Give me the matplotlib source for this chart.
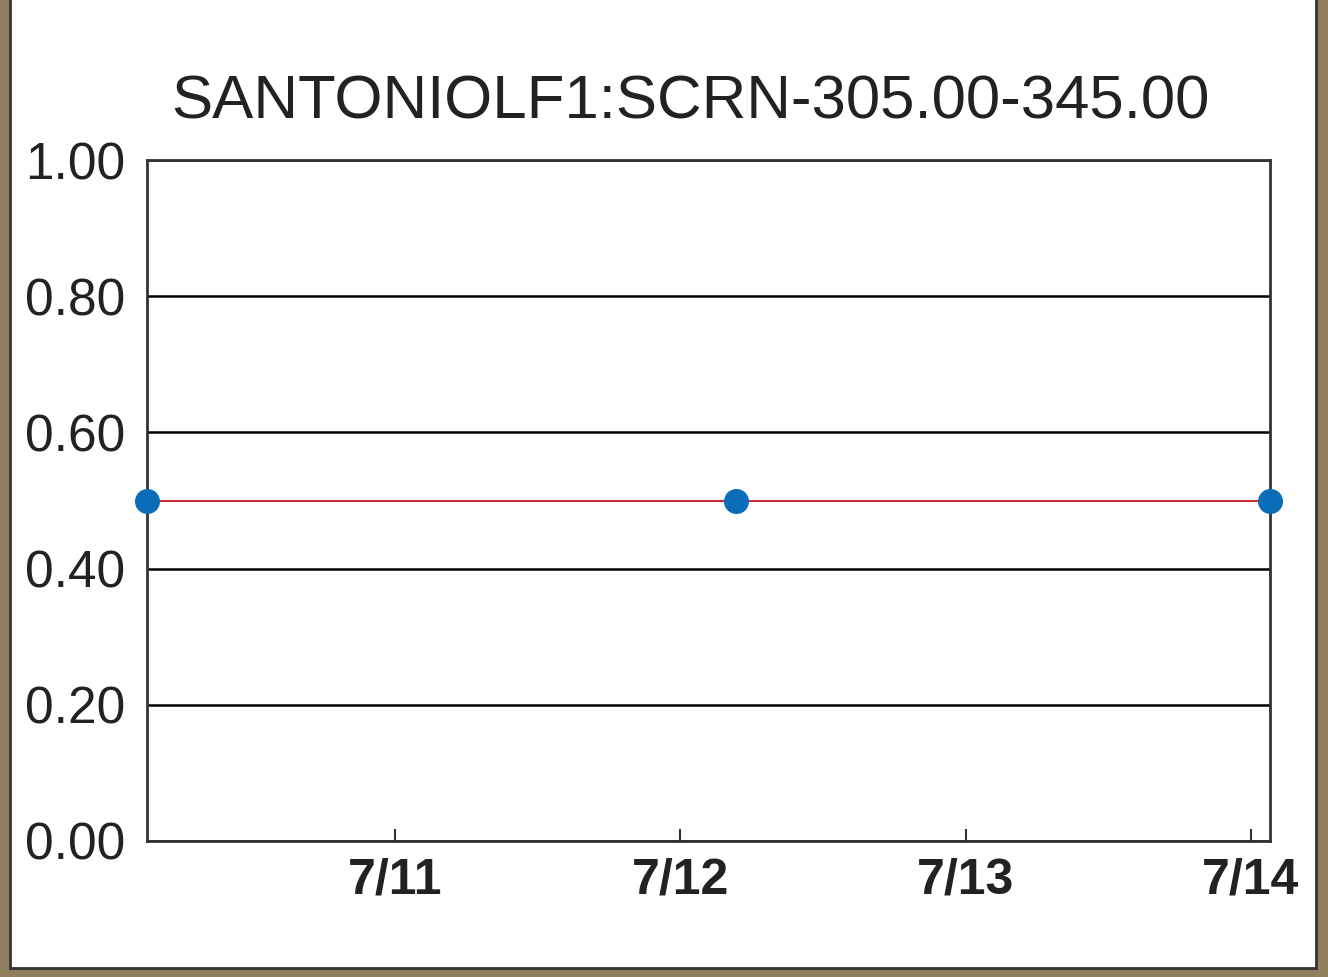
"""Popup chart: SANTONIOLF1 screen level over time."""
from datetime import datetime
import matplotlib
matplotlib.use("Agg")
import matplotlib.pyplot as plt
import matplotlib.dates as mdates
from matplotlib.patches import Rectangle

TITLE = "SANTONIOLF1:SCRN-305.00-345.00"
times = [datetime(2023, 7, 10, 3, 7), datetime(2023, 7, 12, 4, 38), datetime(2023, 7, 14, 1, 36)]
values = [0.5, 0.5, 0.5]
yticks = [0.0, 0.2, 0.4, 0.6, 0.8, 1.0]
xticks = [datetime(2023, 7, d) for d in (11, 12, 13, 14)]

plt.rcParams["font.family"] = ["Liberation Sans", "DejaVu Sans"]

W, H = 1328, 977
fig = plt.figure(figsize=(W / 100, H / 100), dpi=100, facecolor="#8f7f5f")
# white popup panel over the map background
fig.patches.append(Rectangle((10 / W, 1 - 968 / H), 1306 / W, 968 / H + 0.01,
                             transform=fig.transFigure, facecolor="white",
                             edgecolor="#333333", lw=2, zorder=-10))

ax = fig.add_axes([147 / W, 1 - 841 / H, 1123 / W, 681 / H])
ax.plot(times, values, color="#cc2a36", lw=1.5, zorder=3)
ax.plot(times, values, "o", color="#0b6db8", ms=17, mec="#0b6db8",
        clip_on=False, zorder=4)

ax.set_xlim(times[0], times[-1])
ax.set_ylim(0, 1)
ax.set_yticks(yticks)
ax.set_yticklabels([f"{v:.2f}" for v in yticks], fontsize=37, color="#222222")
ax.set_xticks(xticks)
ax.xaxis.set_major_formatter(mdates.DateFormatter("%-m/%d"))
for lab in ax.get_xticklabels():
    lab.set_fontsize(36)
    lab.set_fontweight("bold")
    lab.set_color("#222222")
ax.tick_params(axis="y", length=0, pad=16)
ax.tick_params(axis="x", direction="in", length=9, width=1.5, color="#333333", pad=12)
ax.grid(axis="y", color="black", lw=1.8)
for s in ax.spines.values():
    s.set_color("#333333")
    s.set_linewidth(2)
ax.set_title(TITLE, fontsize=44.5, color="#222222", pad=30, x=0.4835)

fig.savefig("out.png", dpi=100, facecolor=fig.get_facecolor())
